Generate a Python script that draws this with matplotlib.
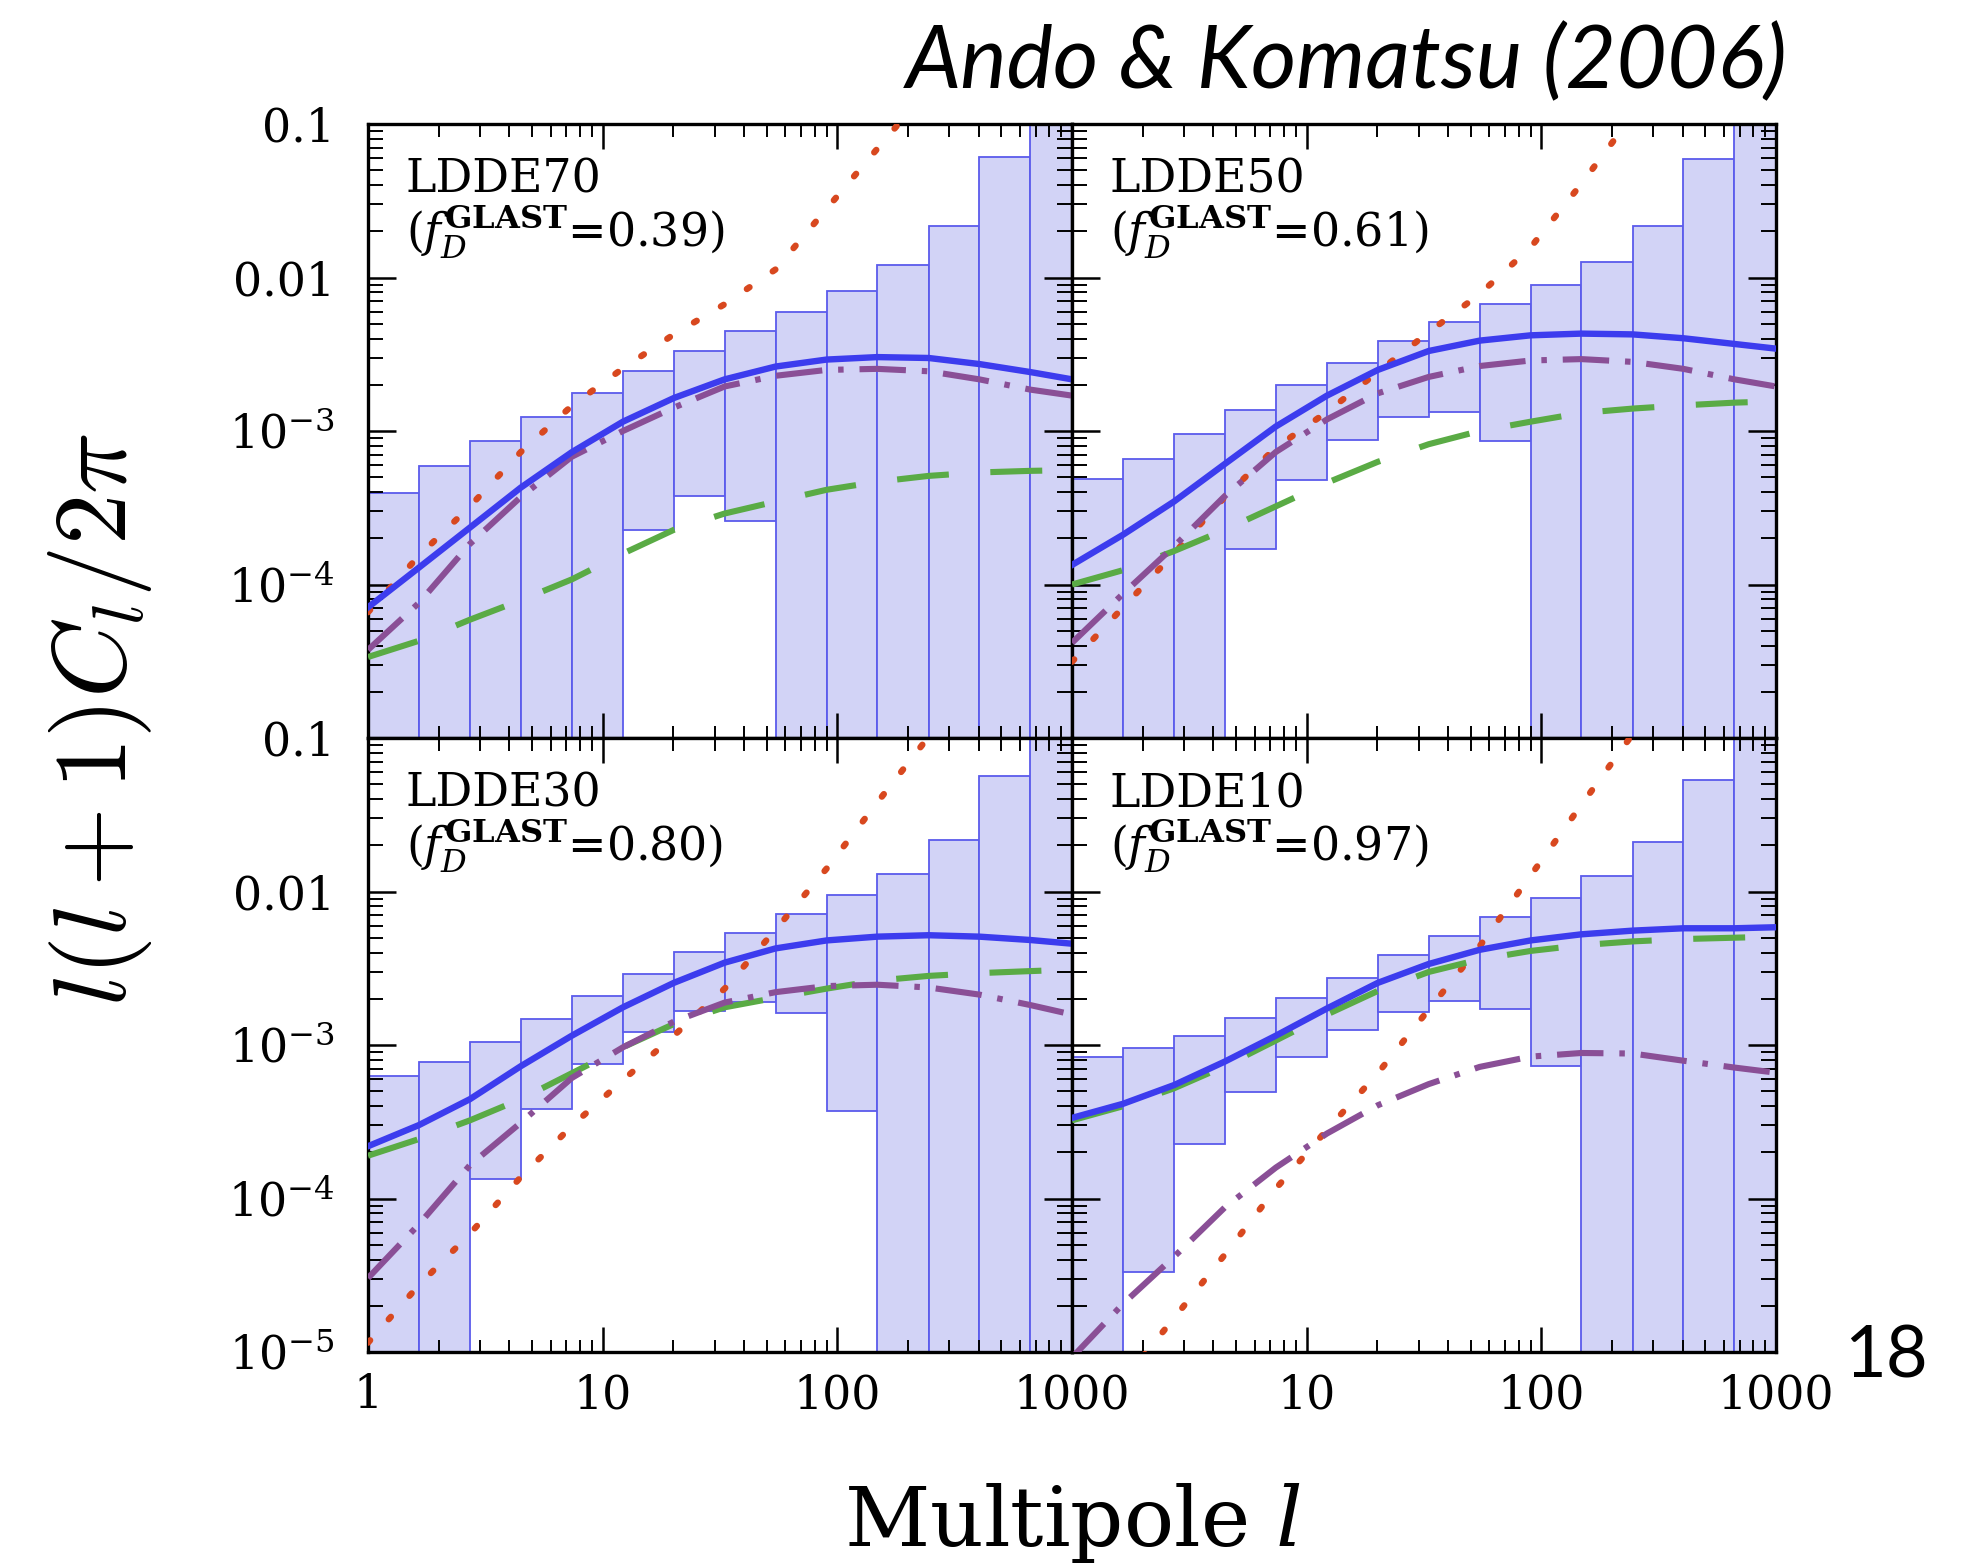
import matplotlib
matplotlib.use('Agg')
import matplotlib.pyplot as plt
import numpy as np
from matplotlib.ticker import LogLocator, NullFormatter, FixedLocator, FixedFormatter

plt.rcParams['font.family'] = 'DejaVu Serif'
plt.rcParams['mathtext.fontset'] = 'dejavuserif'

nan = np.nan
LOW = 1e-9   # box goes below the plotted range
HIGH = 1.0   # box goes above the plotted range

# multipole bin edges of the error boxes, and multipoles where the curves were read
l_edges = [1.0, 1.65, 2.72, 4.48, 7.39, 12.2, 20.1, 33.1, 54.6, 90.0, 148.0, 245.0, 403.0, 665.0, 1097.0]
l_curve = [1.0, 1.65, 2.72, 4.48, 7.39, 12.2, 20.1, 33.1, 54.6, 90.0, 148.0, 245.0, 403.0, 665.0, 1000.0]

names = ['LDDE70', 'LDDE50', 'LDDE30', 'LDDE10']
f_D = ['0.39', '0.61', '0.80', '0.97']

# LDDE70
hi_70 = [3.94e-4, 5.9e-4, 8.6e-4, 1.24e-3, 1.76e-3, 2.45e-3, 3.32e-3, 4.47e-3, 5.93e-3, 8.15e-3, 1.21e-2, 2.16e-2, 6.14e-2, HIGH]
lo_70 = [LOW, LOW, LOW, LOW, LOW, 2.27e-4, 3.8e-4, 2.61e-4, LOW, LOW, LOW, LOW, LOW, LOW]
solid_70 = [7.1e-5, 1.29e-4, 2.35e-4, 4.28e-4, 7.28e-4, 1.15e-3, 1.64e-3, 2.17e-3, 2.63e-3, 2.92e-3, 3.03e-3, 2.99e-3, 2.73e-3, 2.42e-3, 2.17e-3]
dashdot_70 = [3.75e-5, 7.6e-5, 1.84e-4, 3.72e-4, 6.8e-4, 1.0e-3, 1.42e-3, 1.95e-3, 2.29e-3, 2.5e-3, 2.54e-3, 2.45e-3, 2.17e-3, 1.86e-3, 1.70e-3]
dashed_70 = [3.37e-5, 4.3e-5, 5.9e-5, 7.9e-5, 1.08e-4, 1.59e-4, 2.27e-4, 2.9e-4, 3.47e-4, 4.14e-4, 4.67e-4, 5.1e-4, 5.37e-4, 5.5e-4, 5.56e-4]
dotted_70 = [6.6e-5, 1.54e-4, 3.23e-4, 7.3e-4, 1.46e-3, 2.56e-3, 4.26e-3, 6.7e-3, 1.13e-2, 2.8e-2, 6.9e-2, 0.17, nan, nan, nan]

# LDDE50
hi_50 = [4.86e-4, 6.6e-4, 9.6e-4, 1.37e-3, 2.0e-3, 2.79e-3, 3.83e-3, 5.15e-3, 6.73e-3, 8.9e-3, 1.27e-2, 2.16e-2, 5.93e-2, HIGH]
lo_50 = [LOW, LOW, LOW, 1.71e-4, 4.77e-4, 8.7e-4, 1.24e-3, 1.33e-3, 8.6e-4, LOW, LOW, LOW, LOW, LOW]
solid_50 = [1.34e-4, 2.11e-4, 3.47e-4, 6.1e-4, 1.07e-3, 1.70e-3, 2.5e-3, 3.32e-3, 3.88e-3, 4.2e-3, 4.31e-3, 4.26e-3, 4.02e-3, 3.69e-3, 3.44e-3]
dashdot_50 = [4.17e-5, 8.7e-5, 1.77e-4, 3.77e-4, 7.3e-4, 1.19e-3, 1.76e-3, 2.25e-3, 2.65e-3, 2.88e-3, 2.94e-3, 2.82e-3, 2.54e-3, 2.17e-3, 1.95e-3]
dashed_50 = [1.0e-4, 1.24e-4, 1.65e-4, 2.27e-4, 3.23e-4, 4.6e-4, 6.3e-4, 8.2e-4, 1.0e-3, 1.15e-3, 1.31e-3, 1.40e-3, 1.47e-3, 1.53e-3, 1.56e-3]
dotted_50 = [3.14e-5, 7.1e-5, 1.59e-4, 3.72e-4, 7.8e-4, 1.33e-3, 2.42e-3, 4.4e-3, 7.8e-3, 1.57e-2, 4.07e-2, 0.114, nan, nan, nan]

# LDDE30
hi_30 = [6.3e-4, 7.8e-4, 1.05e-3, 1.47e-3, 2.07e-3, 2.92e-3, 4.02e-3, 5.37e-3, 7.12e-3, 9.45e-3, 1.30e-2, 2.16e-2, 5.69e-2, HIGH]
lo_30 = [LOW, LOW, 1.34e-4, 3.85e-4, 7.5e-4, 1.22e-3, 1.66e-3, 1.91e-3, 1.62e-3, 3.72e-4, LOW, LOW, LOW, LOW]
solid_30 = [2.19e-4, 3.01e-4, 4.44e-4, 7.28e-4, 1.15e-3, 1.76e-3, 2.54e-3, 3.44e-3, 4.26e-3, 4.8e-3, 5.08e-3, 5.19e-3, 5.08e-3, 4.83e-3, 4.57e-3]
dashdot_30 = [3.03e-5, 6.8e-5, 1.65e-4, 3.12e-4, 6.1e-4, 9.66e-4, 1.42e-3, 1.89e-3, 2.21e-3, 2.42e-3, 2.47e-3, 2.37e-3, 2.13e-3, 1.82e-3, 1.58e-3]
dashed_30 = [1.90e-4, 2.44e-4, 3.23e-4, 4.44e-4, 6.55e-4, 9.66e-4, 1.37e-3, 1.76e-3, 2.03e-3, 2.33e-3, 2.63e-3, 2.82e-3, 2.94e-3, 3.03e-3, 3.1e-3]
dotted_30 = [1.15e-5, 2.73e-5, 5.9e-5, 1.38e-4, 2.97e-4, 5.9e-4, 1.15e-3, 2.33e-3, 5.65e-3, 1.41e-2, 3.8e-2, 0.102, nan, nan, nan]

# LDDE10
hi_10 = [8.4e-4, 9.5e-4, 1.15e-3, 1.50e-3, 2.03e-3, 2.75e-3, 3.83e-3, 5.15e-3, 6.83e-3, 9.06e-3, 1.27e-2, 2.11e-2, 5.33e-2, HIGH]
lo_10 = [LOW, 3.3e-5, 2.27e-4, 4.93e-4, 8.4e-4, 1.25e-3, 1.64e-3, 1.93e-3, 1.72e-3, 7.28e-4, LOW, LOW, LOW, LOW]
solid_10 = [3.35e-4, 4.14e-4, 5.48e-4, 7.8e-4, 1.15e-3, 1.73e-3, 2.54e-3, 3.37e-3, 4.17e-3, 4.8e-3, 5.26e-3, 5.56e-3, 5.76e-3, 5.76e-3, 5.85e-3]
dashdot_10 = [9.2e-6, 2.06e-5, 4.17e-5, 8.75e-5, 1.59e-4, 2.65e-4, 4.05e-4, 5.56e-4, 7.2e-4, 8.4e-4, 8.87e-4, 8.8e-4, 7.9e-4, 7.13e-4, 6.6e-4]
dashed_10 = [3.23e-4, 3.99e-4, 5.22e-4, 7.28e-4, 1.07e-3, 1.58e-3, 2.25e-3, 2.99e-3, 3.61e-3, 4.1e-3, 4.47e-3, 4.73e-3, 4.9e-3, 5.0e-3, 5.08e-3]
dotted_10 = [nan, 6.5e-6, 1.66e-5, 4.31e-5, 1.16e-4, 2.8e-4, 6.55e-4, 1.70e-3, 4.4e-3, 1.27e-2, 3.66e-2, 0.106, nan, nan, nan]

panels = [
    (hi_70, lo_70, solid_70, dashdot_70, dashed_70, dotted_70),
    (hi_50, lo_50, solid_50, dashdot_50, dashed_50, dotted_50),
    (hi_30, lo_30, solid_30, dashdot_30, dashed_30, dotted_30),
    (hi_10, lo_10, solid_10, dashdot_10, dashed_10, dotted_10),
]

fig = plt.figure(figsize=(19.77, 15.65), dpi=100)
W, H = 1977.0, 1565.0
lefts = [368 / W, 1072 / W]
bottoms = [1 - 738 / H, 1 - 1352 / H]
pw, ph = 704 / W, 614 / H

for i in range(4):
    row, col = i // 2, i % 2
    ax = fig.add_axes([lefts[col], bottoms[row], pw, ph])
    hi, lo, solid, dashdot, dashed, dotted = panels[i]

    left = np.array(l_edges[:-1])
    width = np.array(l_edges[1:]) - left
    ax.bar(left, np.array(hi) - np.array(lo), width=width, bottom=lo, align='edge',
           color='#d2d3f6', edgecolor='#5b5bec', linewidth=1.3, zorder=1)

    ax.plot(l_curve, dotted, color='#d8481f', lw=4.6, ls=(0, (0.5, 4.4)),
            dash_capstyle='round', zorder=3)
    ax.plot(l_curve, dashed, color='#5aab45', lw=4.4, ls=(0, (8.5, 6.8)), zorder=3)
    ax.plot(l_curve, dashdot, color='#8a4f96', lw=4.4, ls=(0, (7.6, 2.6, 0.9, 2.6)), zorder=3)
    ax.plot(l_curve, solid, color='#3c3cee', lw=4.6, zorder=4)

    ax.set_xscale('log')
    ax.set_yscale('log')
    ax.set_xlim(1, 1000)
    ax.set_ylim(1e-5, 0.1)

    ax.xaxis.set_major_locator(FixedLocator([1, 10, 100, 1000]))
    ax.xaxis.set_minor_locator(LogLocator(base=10, subs=np.arange(2, 10), numticks=20))
    ax.yaxis.set_major_locator(FixedLocator([1e-5, 1e-4, 1e-3, 1e-2, 1e-1]))
    ax.yaxis.set_minor_locator(LogLocator(base=10, subs=np.arange(2, 10), numticks=20))
    ax.xaxis.set_minor_formatter(NullFormatter())
    ax.yaxis.set_minor_formatter(NullFormatter())

    if row == 1:
        xl = ['1', '10', '100', '1000'] if col == 0 else ['', '10', '100', '1000']
    else:
        xl = ['', '', '', '']
    ax.xaxis.set_major_formatter(FixedFormatter(xl))
    if col == 0:
        yl = [r'$10^{-5}$', r'$10^{-4}$', r'$10^{-3}$', '0.01', '0.1']
        if row == 0:
            yl[0] = ''
    else:
        yl = ['', '', '', '', '']
    ax.yaxis.set_major_formatter(FixedFormatter(yl))

    ax.tick_params(which='both', direction='in', top=True, right=True)
    ax.tick_params(axis='x', which='major', length=18, width=1.8, pad=15, labelsize=33)
    ax.tick_params(axis='x', which='minor', length=9, width=1.4)
    ax.tick_params(axis='y', which='major', length=20, width=1.8, pad=24, labelsize=33)
    ax.tick_params(axis='y', which='minor', length=11, width=1.4)
    for sp in ax.spines.values():
        sp.set_linewidth(2.4)

    label = names[i] + '\n(' + r'$f_D^{\mathbf{GLAST}}$' + '=' + f_D[i] + ')'
    ax.text(0.0535, 0.80, label, transform=ax.transAxes, fontsize=33,
            va='baseline', linespacing=1.0, zorder=5)

fig.text(0.0505, 0.54, r'$l(l+1)C_l/2\pi$', rotation=90, fontsize=74,
         math_fontfamily='cm', ha='center', va='center')
fig.text(0.5425, 0.012, r'Multipole $l$', fontsize=60, ha='center', va='baseline')

fig.text(0.9044, 0.9438, 'Ando & Komatsu (2006)', fontsize=63, family='Lato',
         style='italic', ha='right', va='baseline')
fig.text(0.975, 0.120, '18', fontsize=52, family='Lato', ha='right', va='baseline')

fig.savefig('out.png', dpi=100)
